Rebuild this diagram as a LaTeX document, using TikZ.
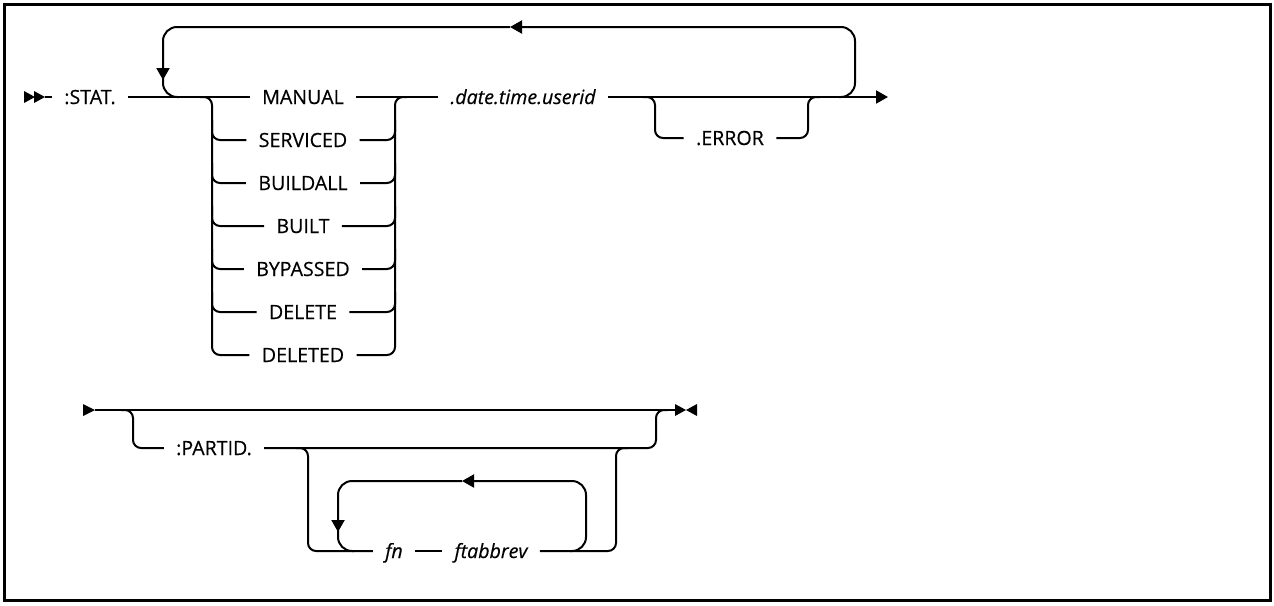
\documentclass[tikz,border=0pt]{standalone}
\usepackage{fontspec}
\setmainfont{Open Sans}[FakeBold=0.4]
\usepackage{tikz}
\usetikzlibrary{arrows.meta}
\tikzset{
  kw/.style={inner xsep=6pt, inner ysep=0pt, text height=7pt, text depth=0pt,
    font=\fontsize{9.8}{11}\selectfont},
  var/.style={kw, font=\fontsize{9.8}{11}\selectfont\itshape},
  rail/.style={line width=1pt, rounded corners=4pt},
  back/.style={line width=1pt, rounded corners=7pt},
  tip/.style={-{Triangle[length=6pt,width=6.5pt]}}
}

\begin{document}
\begin{tikzpicture}[x=0.5pt,y=-0.5pt]
  \useasboundingbox (0,0) rectangle (1274,605);
  \draw[line width=1.5pt] (4,4) rectangle (1270,600);

  % first line
  \fill (24,91) -- (35,97) -- (24,103) -- cycle;
  \fill (34,91) -- (45,97) -- (34,103) -- cycle;
  \coordinate (start) at (45,97);
  \coordinate (end) at (888,97);
  \node[kw] (stat) at (90,97) {:STAT.};
  \foreach \name/\txt/\y in {manual/MANUAL/97, serviced/SERVICED/140,
      buildall/BUILDALL/183, built/BUILT/226, bypassed/BYPASSED/269,
      delete/DELETE/312, deleted/DELETED/355}
    \node[kw] (\name) at (303,\y) {\txt};
  \node[var] (dtu) at (523,97) {.date.time.userid};
  \node[kw] (error) at (730,138) {.ERROR};

  \draw[rail] (start) -- (stat.west);
  \draw[rail] (stat.east) -- (manual.west);
  \draw[rail] (manual.east) -- (dtu.west);
  \draw[rail,tip] (dtu.east) -- (end);

  % choice
  \coordinate (chL) at (212,97);
  \coordinate (chR) at (395,97);
  \draw[rail] (chL) ++(-12,0) -- (chL) -- (chL |- deleted.west) -- (deleted.west);
  \draw[rail] (deleted.east) -- (chR |- deleted.east) -- (chR) -- ++(12,0);
  \foreach \name in {serviced,buildall,built,bypassed,delete}{
    \draw[rail] (chL |- \name.west) ++(0,-20) -- (chL |- \name.west) -- (\name.west);
    \draw[rail] (\name.east) -- (chR |- \name.east) -- ++(0,-20);
  }

  % optional .ERROR
  \coordinate (opL) at (655,97);
  \coordinate (opR) at (808,97);
  \draw[rail] (opL) ++(-12,0) -- (opL) -- (opL |- error.west) -- (error.west);
  \draw[rail] (error.east) -- (opR |- error.east) -- (opR) -- ++(12,0);

  % repeat
  \coordinate (rpL) at (163,97);
  \coordinate (rpR) at (855,97);
  \draw[back,tip] (rpR) ++(-16,0) -- (rpR) -- (855,27) -- (510,27);
  \draw[back,tip] (510,27) -- (163,27) -- (163,80);
  \draw[back] (163,78) -- (rpL) -- ++(16,0);

  % second line
  \fill (83,404) -- (95,410) -- (83,416) -- cycle;
  \fill (675,404) -- (686,410) -- (675,416) -- cycle;
  \fill (697,404) -- (686,410) -- (697,416) -- cycle;
  \coordinate (start2) at (95,410);
  \coordinate (end2) at (675,410);
  \node[kw] (partid) at (214,448) {:PARTID.};
  \node[var] (fn) at (394,551) {fn};
  \node[var] (ftab) at (491,551) {ftabbrev};

  \draw[rail] (start2) -- (end2);
  \coordinate (obL) at (133,410);
  \coordinate (obR) at (656,410);
  \draw[rail] (obL) ++(-12,0) -- (obL) -- (obL |- partid.west) -- (partid.west);
  \draw[rail] (partid.east) -- (obR |- partid.east) -- (obR) -- ++(12,0);

  \coordinate (ibL) at (308,448);
  \coordinate (ibR) at (616,448);
  \draw[rail] (ibL) ++(-12,0) -- (ibL) -- (ibL |- fn.west) -- (fn.west);
  \draw[rail] (fn.east) -- (ftab.west);
  \draw[rail] (ftab.east) -- (ibR |- ftab.east) -- (ibR) -- ++(12,0);

  \draw[back,tip] (586,551) ++(-16,0) -- (586,551) -- (586,481) -- (462,481);
  \draw[back,tip] (462,481) -- (338,481) -- (338,532);
  \draw[back] (338,530) -- (338,551) -- ++(16,0);
\end{tikzpicture}
\end{document}
